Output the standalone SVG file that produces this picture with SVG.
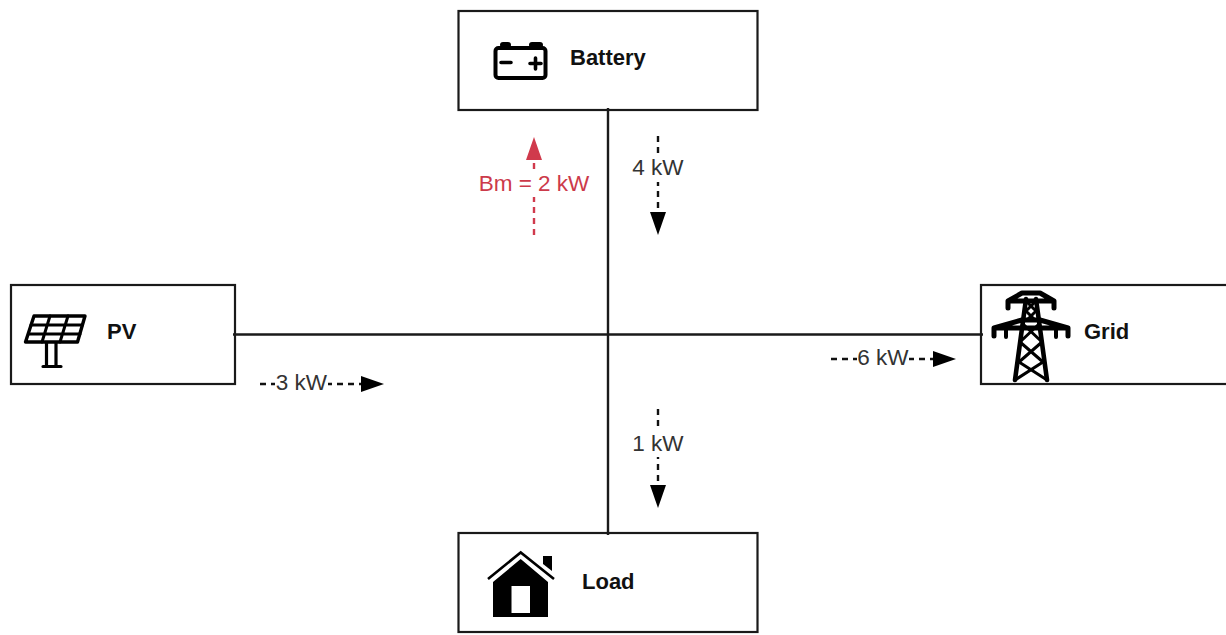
<svg xmlns="http://www.w3.org/2000/svg" width="1226" height="635" viewBox="0 0 1226 635">
<style>
.box{fill:#fff;stroke:#1a1a1a;stroke-width:2.2}
.name{font:bold 22px "Liberation Sans",Arial,sans-serif;fill:#111}
.lab{font:22.5px "Liberation Sans",Arial,sans-serif;fill:#333;text-anchor:middle}
.red{fill:#cc3a4a}
.bus{stroke:#1a1a1a;stroke-width:2.4;fill:none}
.flow{stroke:#111;stroke-width:2.4;stroke-dasharray:6 5;fill:none}
.flowr{stroke:#d03a4c;stroke-width:2.4;stroke-dasharray:6 5;fill:none}
.mask{fill:#fff}
.ic{fill:none;stroke:#000;stroke-linejoin:round;stroke-linecap:round}
</style>
<defs>
<marker id="ah" markerUnits="userSpaceOnUse" markerWidth="24" markerHeight="16" refX="15" refY="8" orient="auto"><path d="M0 0L23 8L0 16z" fill="#000"/></marker>
<marker id="ahr" markerUnits="userSpaceOnUse" markerWidth="24" markerHeight="16" refX="15" refY="8" orient="auto"><path d="M0 0L23 8L0 16z" fill="#d03a4c"/></marker>
</defs>
<rect width="1226" height="635" fill="#fff"/>
<g id="node-battery">
<rect class="box" x="458.500" y="11" width="299" height="99"/>
<g class="ic">
<rect x="495.500" y="48" width="50" height="30" rx="3" stroke-width="4"/>
<path d="M503 45h5M532 45h8" stroke-width="6"/>
<path d="M501 62.500h10M530 63.500h11M535.500 58v11" stroke-width="3.600"/>
</g>
<text class="name" x="570" y="65">Battery</text>
</g>
<g id="node-pv">
<rect class="box" x="11" y="285" width="224" height="99"/>
<g class="ic" stroke-width="3.400">
<path d="M34 316H85L77.500 342H25.500Z"/>
<path d="M31 325H82.500M28.500 334H80M50 316L42 342M68 316L60 342" stroke-width="3"/>
<path d="M46.500 343V366M56 343V366M43 366.500H61" stroke-width="3.200"/>
</g>
<text class="name" x="107" y="339">PV</text>
</g>
<g id="node-grid">
<rect class="box" x="981" y="285" width="250" height="99"/>
<g class="ic">
<path d="M1008 308V301L1022 293H1040L1054 301V308M1008 301H1054" stroke-width="5"/>
<path d="M994 336V328L1022 320H1040L1068 328V336M994 328H1068" stroke-width="5"/>
<path d="M1006 328V337M1056 328V337" stroke-width="4"/>
<path d="M1026 299L1015 380M1036 299L1047 380" stroke-width="4.600"/>
<path d="M1026 301L1036 311L1027 320M1036 301L1026 311L1035 320M1023 324L1042 342L1019 362L1047 380M1039 324L1020 342L1043 362L1015 380" stroke-width="3"/>
</g>
<text class="name" x="1084" y="339">Grid</text>
</g>
<g id="node-load">
<rect class="box" x="458.500" y="533" width="299" height="99"/>
<path d="M488 579L520.700 552.500L554 579" fill="none" stroke="#000" stroke-width="2.600"/>
<path d="M543 556H552V571L543 564Z" fill="#000"/>
<path fill-rule="evenodd" d="M493 617V582L520.700 559L548 582V617ZM511.500 586V613H530V586Z" fill="#000"/>
<text class="name" x="582" y="589">Load</text>
</g>
<g id="connectors">
<path class="bus" d="M233 334.500H983M608 108V535"/>
<path class="flow" d="M658 136V227" marker-end="url(#ah)"/>
<path class="flow" d="M658 409V500" marker-end="url(#ah)"/>
<path class="flow" d="M260 384H376" marker-end="url(#ah)"/>
<path class="flow" d="M831 359H948" marker-end="url(#ah)"/>
<path class="flowr" d="M534 235V145" marker-end="url(#ahr)"/>
<rect class="mask" x="631" y="155" width="54" height="27"/>
<rect class="mask" x="631" y="431" width="54" height="26"/>
<rect class="mask" x="275" y="372" width="53" height="24"/>
<rect class="mask" x="857" y="347" width="52" height="24"/>
<rect class="mask" x="478" y="172" width="112" height="25"/>
<text class="lab" x="658" y="175">4 kW</text>
<text class="lab" x="658" y="451">1 kW</text>
<text class="lab" x="301.500" y="390">3 kW</text>
<text class="lab" x="883" y="365">6 kW</text>
<text class="lab red" x="534" y="191">Bm = 2 kW</text>
</g>
</svg>
